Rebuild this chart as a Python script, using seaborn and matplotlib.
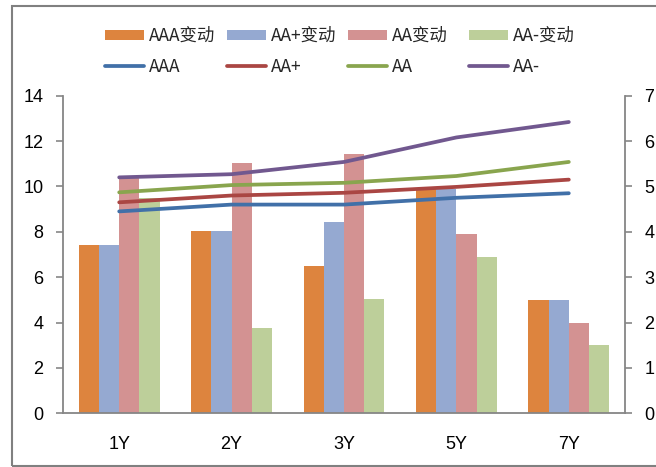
import numpy as np
import pandas as pd
import matplotlib
matplotlib.use("Agg")
import matplotlib.pyplot as plt
from matplotlib.patches import Rectangle
import seaborn as sns

# ---- data ----
tenors = ["1Y", "2Y", "3Y", "5Y", "7Y"]

# changes (left axis, bars)
aaa_chg = [7.4, 8.05, 6.5, 9.9, 5.0]
aap_chg = [7.4, 8.05, 8.45, 9.9, 5.0]
aa_chg = [10.4, 11.05, 11.45, 7.9, 4.0]
aam_chg = [9.5, 3.75, 5.05, 6.9, 3.0]

# yield levels (right axis, lines)
aaa_lvl = [4.45, 4.6, 4.6, 4.75, 4.85]
aap_lvl = [4.65, 4.8, 4.86, 4.99, 5.15]
aa_lvl = [4.87, 5.03, 5.08, 5.23, 5.54]
aam_lvl = [5.2, 5.27, 5.54, 6.08, 6.42]

bar_names = ["AAA变动", "AA+变动", "AA变动", "AA-变动"]
line_names = ["AAA", "AA+", "AA", "AA-"]
left_ticks = [0, 2, 4, 6, 8, 10, 12, 14]
right_ticks = [0, 1, 2, 3, 4, 5, 6, 7]

bar_colors = ["#DD843E", "#95A9D1", "#D39292", "#BDCF9A"]
line_colors = ["#4170A8", "#AA4643", "#89A54E", "#71588F"]
axis_gray = "#868686"

bars_df = pd.DataFrame({
    "tenor": tenors * 4,
    "series": [n for n in bar_names for _ in tenors],
    "value": aaa_chg + aap_chg + aa_chg + aam_chg,
})
lines_df = pd.DataFrame({
    "pos": list(range(len(tenors))) * 4,
    "series": [n for n in line_names for _ in tenors],
    "value": aaa_lvl + aap_lvl + aa_lvl + aam_lvl,
})

sns.set_style("white")
plt.rcParams["font.family"] = ["Liberation Sans", "Noto Sans CJK SC", "DejaVu Sans"]

fig = plt.figure(figsize=(6.56, 4.67), dpi=100)
ax = fig.add_axes([63 / 656, (467 - 413.3) / 467, (625 - 63) / 656, (413.3 - 95.7) / 467])

sns.barplot(data=bars_df, x="tenor", y="value", hue="series", palette=bar_colors,
            width=0.72, saturation=1, linewidth=0, ax=ax, legend=True)
bar_handles, bar_labels = ax.get_legend_handles_labels()
ax.get_legend().remove()

ax2 = ax.twinx()
sns.lineplot(data=lines_df, x="pos", y="value", hue="series", palette=line_colors,
             linewidth=2.7, sort=False, ax=ax2, legend=True)
for ln in ax2.get_lines():
    ln.set_solid_capstyle("round")
line_handles, line_labels = ax2.get_legend_handles_labels()
ax2.get_legend().remove()
for h in line_handles:
    h.set_linewidth(2.7)
    h.set_solid_capstyle("round")

ax.set_xlim(-0.5, len(tenors) - 0.5)
ax.set_ylim(0, 14)
ax2.set_ylim(0, 7)
ax.set_yticks(left_ticks)
ax2.set_yticks(right_ticks)
ax.set_xlabel("")
ax.set_ylabel("")
ax2.set_xlabel("")
ax2.set_ylabel("")

# category boundary ticks on the x axis, labels centred without ticks
ax.set_xticks(np.arange(len(tenors)))
ax.set_xticklabels(tenors)
ax.set_xticks(np.arange(len(tenors) + 1) - 0.5, minor=True)
ax.tick_params(axis="x", which="major", length=0, pad=16, labelsize=13, colors="black")
ax.tick_params(axis="x", which="minor", length=5, width=1.2, color=axis_gray, direction="out")
ax.tick_params(axis="y", length=5, width=1.2, color=axis_gray, direction="out",
               pad=9, labelsize=13, labelcolor="black", left=True)
ax2.tick_params(axis="y", length=5, width=1.2, color=axis_gray, direction="out",
                pad=9, labelsize=13, labelcolor="black", right=True)

for a in (ax, ax2):
    a.spines["top"].set_visible(False)
    for s in ("left", "right", "bottom"):
        a.spines[s].set_color(axis_gray)
        a.spines[s].set_linewidth(1.3)
    a.grid(False)
ax.spines["right"].set_visible(False)
ax2.spines["left"].set_visible(False)
ax2.spines["bottom"].set_visible(False)

# legend: one column per rating, bars on the first row, lines on the second
col_x = [105, 227, 348, 469]
for i in range(4):
    fig.legend([bar_handles[i], line_handles[i]], [bar_labels[i], line_labels[i]],
               loc="upper left", bbox_to_anchor=(col_x[i] / 656, 1 - 27 / 467),
               frameon=False, prop={"family": ["Noto Sans CJK SC", "DejaVu Sans"], "size": 12.5},
               handlelength=2.25, handleheight=0.5, handletextpad=0.3,
               labelspacing=0.75, borderpad=0, borderaxespad=0)

# outer chart frame
fig.patches.append(Rectangle((12 / 656, 1 / 467), 1.0, (466 - 6) / 467,
                             transform=fig.transFigure, fill=False,
                             edgecolor="#808080", linewidth=1.5, zorder=0))

fig.savefig("out.png", dpi=100)
